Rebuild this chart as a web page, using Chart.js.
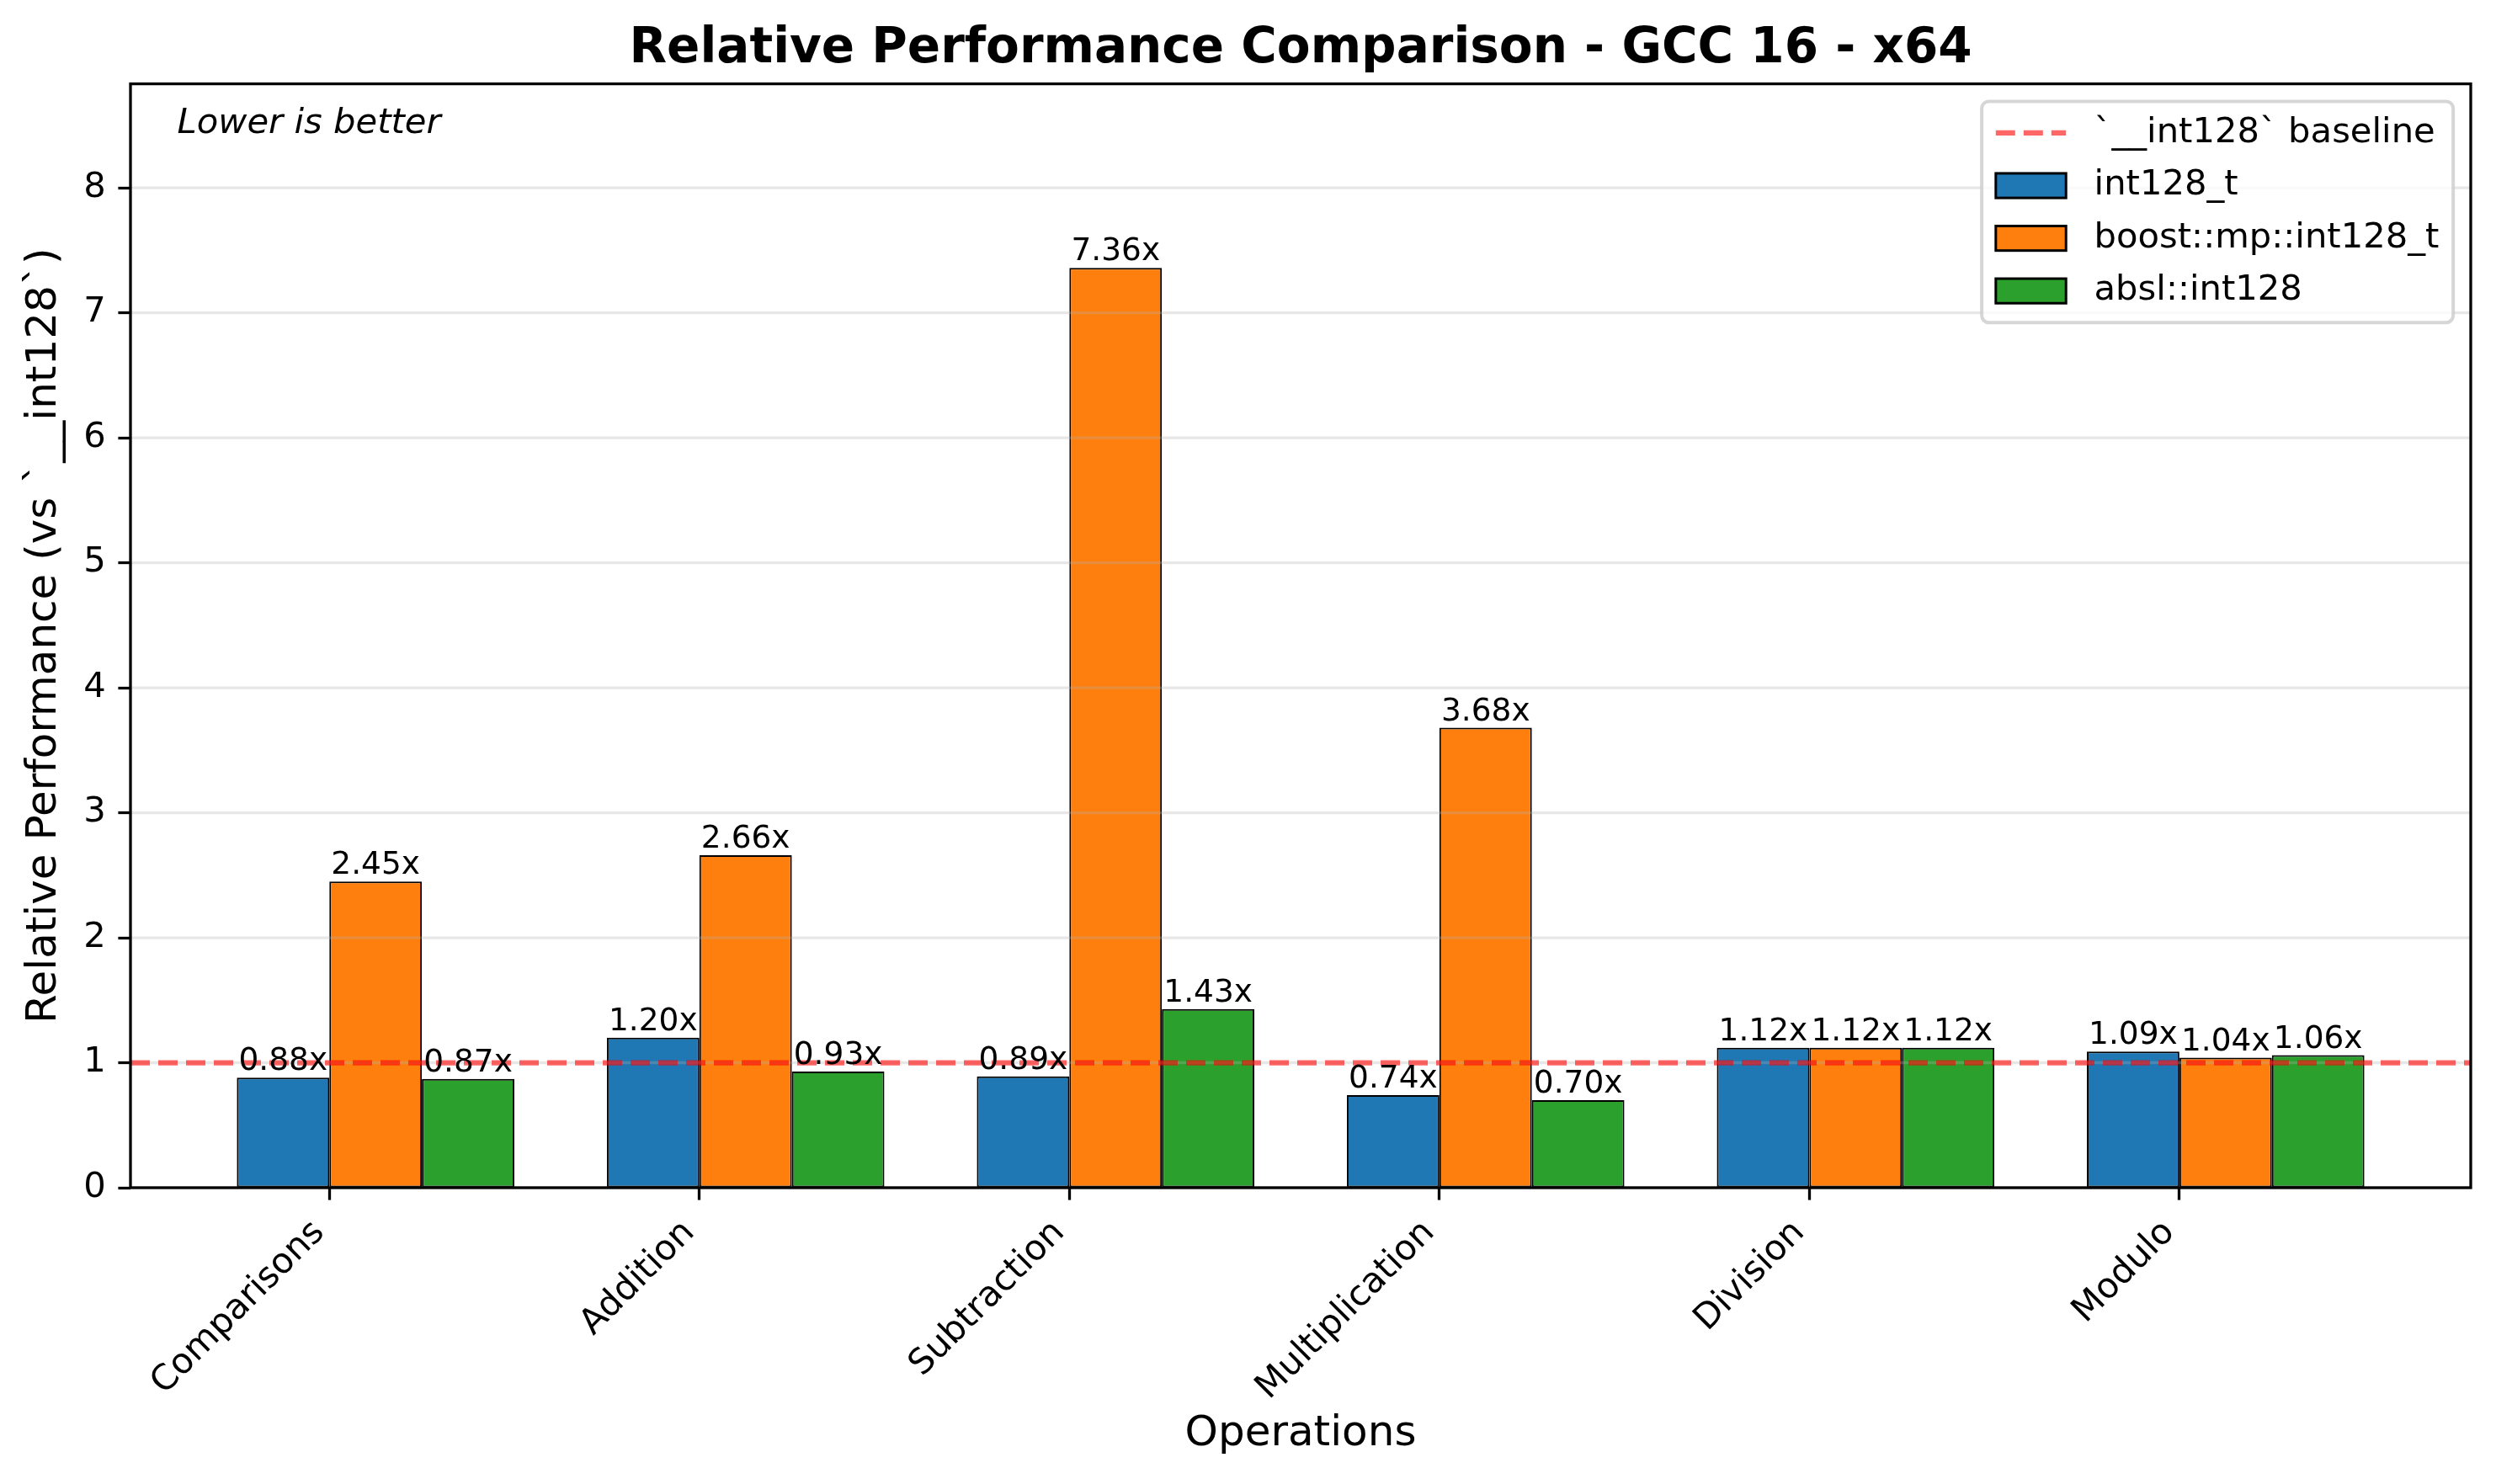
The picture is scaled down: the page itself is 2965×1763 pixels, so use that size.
<!DOCTYPE html>
<html>
<head>
<meta charset="utf-8">
<script src="https://cdn.jsdelivr.net/npm/chart.js@4.4.0/dist/chart.umd.min.js"></script>
<style>
  html, body { margin: 0; padding: 0; background: #fff; }
</style>
</head>
<body>
<canvas id="chart" width="2965" height="1763"></canvas>
<script>
const operations = ["Comparisons", "Addition", "Subtraction", "Multiplication", "Division", "Modulo"];
const int128Values = [0.88, 1.20, 0.89, 0.74, 1.12, 1.09];
const boostValues = [2.45, 2.66, 7.36, 3.68, 1.12, 1.04];
const abslValues = [0.87, 0.93, 1.43, 0.70, 1.12, 1.06];
const baselineValue = 1;
const yTicks = [0, 1, 2, 3, 4, 5, 6, 7, 8];

// matplotlib-like geometry: bars 0.25 wide, tick sits on the left edge of the middle bar
const barWidth = 0.25;
const groupOffset = barWidth / 2;
const dataLow = -barWidth;
const dataHigh = operations.length - 1 + 2 * barWidth;
const xMargin = (dataHigh - dataLow) * 0.05;
const xMin = dataLow - xMargin;
const xMax = dataHigh + xMargin;
const yMax = Math.max(...boostValues, ...int128Values, ...abslValues) * 1.2;

const FONT = '"DejaVu Sans", "Liberation Sans", sans-serif';
Chart.defaults.font.family = FONT;
Chart.defaults.color = "#000";

const toPoints = (vals) => vals.map((v, i) => ({ x: i + groupOffset, y: v }));

const barStyle = {
  borderColor: "#000",
  borderWidth: 2,
  borderSkipped: false,
  categoryPercentage: 0.75,
  barPercentage: 1.0
};

const extras = {
  id: "extras",
  beforeDatasetDraw(chart, args) {
    // grid sits above the bars but below the baseline (drawn last)
    if (args.index !== 0) return;
    const { ctx, chartArea: a, scales: { y } } = chart;
    ctx.save();
    ctx.strokeStyle = "rgba(176,176,176,0.3)";
    ctx.lineWidth = 3.3;
    y.ticks.forEach(t => {
      const py = y.getPixelForValue(t.value);
      ctx.beginPath();
      ctx.moveTo(a.left, py);
      ctx.lineTo(a.right, py);
      ctx.stroke();
    });
    ctx.restore();
  },
  afterDatasetsDraw(chart) {
    const { ctx, chartArea: a } = chart;
    ctx.save();
    // spines
    ctx.strokeStyle = "#000";
    ctx.lineWidth = 3.3;
    ctx.strokeRect(a.left, a.top, a.right - a.left, a.bottom - a.top);

    // value labels
    ctx.font = `37.5px ${FONT}`;
    ctx.fillStyle = "#000";
    ctx.textAlign = "center";
    ctx.textBaseline = "bottom";
    chart.data.datasets.forEach((ds, di) => {
      if (ds.type === "line") return;
      const meta = chart.getDatasetMeta(di);
      meta.data.forEach((bar, i) => {
        ctx.fillText(ds.data[i].y.toFixed(2) + "x", bar.x, bar.y);
      });
    });

    // note
    ctx.font = `italic 41.7px ${FONT}`;
    ctx.textAlign = "left";
    ctx.textBaseline = "top";
    ctx.fillText("Lower is better", a.left + 0.02 * (a.right - a.left), a.top + 0.02 * (a.bottom - a.top));
    ctx.restore();
  },
  afterDraw(chart) {
    const { ctx, chartArea: a } = chart;
    const fs = 41.7;
    const pad = 0.4 * fs, handleLen = 2 * fs, handleGap = 0.8 * fs, rowGap = 0.5 * fs, edge = 0.5 * fs;
    const items = chart.data.datasets;
    ctx.save();
    ctx.font = `${fs}px ${FONT}`;
    const textW = Math.max(...items.map(d => ctx.measureText(d.label).width));
    const w = pad * 2 + handleLen + handleGap + textW;
    const h = pad * 2 + items.length * fs + (items.length - 1) * rowGap;
    const right = a.right - edge, top = a.top + edge, left = right - w;

    ctx.beginPath();
    ctx.roundRect(left, top, w, h, 0.2 * fs);
    ctx.fillStyle = "rgba(255,255,255,0.8)";
    ctx.fill();
    ctx.strokeStyle = "rgba(204,204,204,0.8)";
    ctx.lineWidth = 4;
    ctx.stroke();

    items.forEach((d, i) => {
      const cy = top + pad + i * (fs + rowGap) + fs / 2;
      const hx = left + pad;
      if (d.type === "line") {
        ctx.strokeStyle = d.borderColor;
        ctx.lineWidth = d.borderWidth;
        ctx.setLineDash(d.borderDash);
        ctx.beginPath();
        ctx.moveTo(hx, cy);
        ctx.lineTo(hx + handleLen, cy);
        ctx.stroke();
        ctx.setLineDash([]);
      } else {
        const bh = 0.7 * fs;
        ctx.fillStyle = d.backgroundColor;
        ctx.fillRect(hx, cy - bh / 2, handleLen, bh);
        ctx.strokeStyle = "#000";
        ctx.lineWidth = 3;
        ctx.strokeRect(hx, cy - bh / 2, handleLen, bh);
      }
      ctx.fillStyle = "#000";
      ctx.textAlign = "left";
      ctx.textBaseline = "middle";
      ctx.fillText(d.label, hx + handleLen + handleGap, cy);
    });
    ctx.restore();
  }
};

new Chart(document.getElementById("chart"), {
  type: "bar",
  data: {
    datasets: [
      {
        type: "line",
        label: "`__int128` baseline",
        data: [{ x: xMin, y: baselineValue }, { x: xMax, y: baselineValue }],
        borderColor: "rgba(255,0,0,0.6)",
        borderWidth: 6.25,
        borderDash: [23, 10],
        pointRadius: 0,
        fill: false
      },
      { label: "int128_t", data: toPoints(int128Values), backgroundColor: "#1f77b4", ...barStyle },
      { label: "boost::mp::int128_t", data: toPoints(boostValues), backgroundColor: "#ff7f0e", ...barStyle },
      { label: "absl::int128", data: toPoints(abslValues), backgroundColor: "#2ca02c", ...barStyle }
    ]
  },
  options: {
    responsive: false,
    devicePixelRatio: 1,
    animation: false,
    layout: { padding: { left: 0, right: 30, top: 0, bottom: 0 } },
    plugins: {
      legend: { display: false },
      tooltip: { enabled: false },
      title: {
        display: true,
        fullSize: false,
        text: "Relative Performance Comparison - GCC 16 - x64",
        color: "#000",
        font: { size: 58, weight: "bold", lineHeight: 1.2 },
        padding: { top: 24, bottom: 6 }
      }
    },
    scales: {
      x: {
        type: "linear",
        min: xMin,
        max: xMax,
        offset: false,
        afterBuildTicks: s => { s.ticks = operations.map((_, i) => ({ value: i })); },
        afterFit: s => { s.height = 352; },
        ticks: {
          autoSkip: false,
          minRotation: 45,
          maxRotation: 45,
          labelOffset: -12,
          padding: 14.6,
          font: { size: 41.7 },
          callback: v => operations[v]
        },
        grid: {
          offset: false,
          drawOnChartArea: false,
          tickColor: "#000",
          tickWidth: 3.3,
          tickLength: 14.6
        },
        border: { display: false },
        title: {
          display: true,
          text: "Operations",
          font: { size: 50 },
          padding: { top: 0, bottom: 29 }
        }
      },
      y: {
        min: 0,
        max: yMax,
        afterBuildTicks: s => { s.ticks = yTicks.map(v => ({ value: v })); },
        afterFit: s => { s.width = 155; },
        ticks: {
          padding: 14.6,
          font: { size: 41.7 },
          callback: v => String(v)
        },
        grid: {
          drawOnChartArea: false,
          tickColor: "#000",
          tickWidth: 3.3,
          tickLength: 14.6
        },
        border: { display: false },
        title: {
          display: true,
          text: "Relative Performance (vs `__int128`)",
          font: { size: 50 },
          padding: { top: 23, bottom: 0 }
        }
      }
    }
  },
  plugins: [extras]
});
</script>
</body>
</html>
